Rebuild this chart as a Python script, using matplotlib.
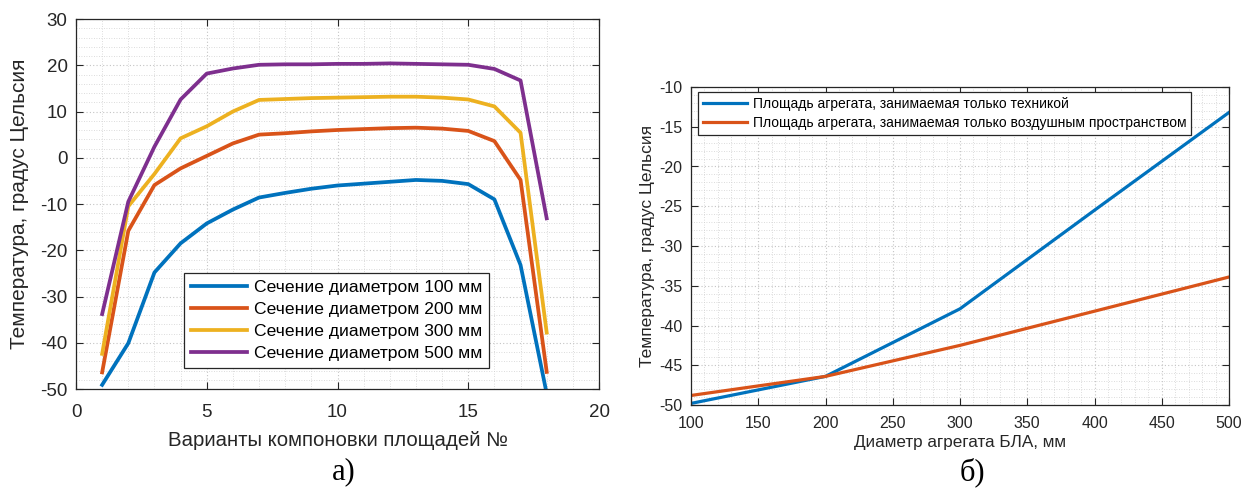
import matplotlib
matplotlib.use("Agg")
import matplotlib.pyplot as plt
from matplotlib.ticker import MultipleLocator

# ---- data: left chart ----
variants = list(range(1, 19))
s100 = [-49.1, -40.1, -24.8, -18.5, -14.2, -11.2, -8.6, -7.6, -6.7, -6.0, -5.6, -5.2, -4.8, -5.0, -5.7, -9.0, -23.2, -51.0]
s200 = [-46.4, -15.8, -5.9, -2.3, 0.4, 3.1, 5.0, 5.3, 5.7, 6.0, 6.2, 6.4, 6.5, 6.3, 5.8, 3.6, -4.8, -46.3]
s300 = [-42.4, -10.5, -3.5, 4.2, 6.8, 10.0, 12.5, 12.7, 12.9, 13.0, 13.1, 13.2, 13.2, 13.0, 12.6, 11.1, 5.4, -37.8]
s500 = [-33.8, -9.5, 2.4, 12.6, 18.2, 19.3, 20.1, 20.2, 20.2, 20.3, 20.3, 20.4, 20.3, 20.2, 20.1, 19.2, 16.7, -13.1]
left_labels = ["Сечение диаметром 100 мм", "Сечение диаметром 200 мм",
               "Сечение диаметром 300 мм", "Сечение диаметром 500 мм"]

# ---- data: right chart ----
diam = [100, 200, 300, 400, 500]
tech = [-49.8, -46.4, -37.9, -25.5, -13.2]
air = [-48.8, -46.4, -42.5, -38.2, -33.9]
right_labels = ["Площадь агрегата, занимаемая только техникой",
                "Площадь агрегата, занимаемая только воздушным пространством"]

colors = ["#0072BD", "#D95319", "#EDB120", "#7E2F8E"]

plt.rcParams['font.family'] = ['Liberation Sans', 'DejaVu Sans']
plt.rcParams['axes.unicode_minus'] = False

fig = plt.figure(figsize=(12.44, 4.9), dpi=100)
ax1 = fig.add_axes([76/1244, 1-389/490, 523/1244, 370/490])
ax2 = fig.add_axes([691/1244, 1-405/490, 538/1244, 318/490])

def style(ax, xmin, xmaj, ymin, ymaj, fs, xpad, ypad):
    ax.xaxis.set_major_locator(MultipleLocator(xmaj))
    ax.xaxis.set_minor_locator(MultipleLocator(xmin))
    ax.yaxis.set_major_locator(MultipleLocator(ymaj))
    ax.yaxis.set_minor_locator(MultipleLocator(ymin))
    ax.grid(which='major', color='#c4c4c4', linestyle=(0, (1, 2)), linewidth=0.8)
    ax.grid(which='minor', color='#d0d0d0', linestyle=(0, (1, 2)), linewidth=0.6)
    ax.set_axisbelow(True)
    ax.tick_params(which='major', direction='in', top=True, right=True, length=5,
                   width=0.8, colors='#262626', labelsize=fs, labelcolor='#262626')
    ax.tick_params(axis='x', which='major', pad=xpad)
    ax.tick_params(axis='y', which='major', pad=ypad)
    ax.tick_params(which='minor', length=0, top=True, right=True)
    for sp in ax.spines.values():
        sp.set_color('#262626')
        sp.set_linewidth(0.9)

# left chart
for vals, c, lab in zip([s100, s200, s300, s500], colors, left_labels):
    ax1.plot(variants, vals, color=c, linewidth=2.7, label=lab)
ax1.set_xlim(0, 20)
ax1.set_ylim(-50, 30)
style(ax1, 1, 5, 2, 10, 13.5, 11, 6)
ax1.set_xlabel("Варианты компоновки площадей №", fontsize=14.7, color='#262626')
ax1.xaxis.set_label_coords(0.5, (389-441)/370)
ax1.xaxis.label.set_va('center')
ax1.set_ylabel("Температура, градус Цельсия", fontsize=15, color='#262626')
ax1.yaxis.set_label_coords((20-76)/523, 0.5)
ax1.yaxis.label.set_va('center')
leg1 = ax1.legend(loc='lower left', bbox_to_anchor=(0.2065, 0.057), fontsize=12.6,
                  frameon=True, fancybox=False, edgecolor='#262626', framealpha=1,
                  handlelength=3.2, handletextpad=0.4, borderpad=0.4, labelspacing=0.38,
                  borderaxespad=0)
leg1.get_frame().set_linewidth(0.9)

# right chart
ax2.plot(diam, tech, color=colors[0], linewidth=2.3, label=right_labels[0])
ax2.plot(diam, air, color=colors[1], linewidth=2.3, label=right_labels[1])
ax2.set_xlim(100, 500)
ax2.set_ylim(-50, -10)
style(ax2, 10, 50, 1, 5, 11.5, 8, 6)
ax2.set_xlabel("Диаметр агрегата БЛА, мм", fontsize=12.3, color='#262626')
ax2.xaxis.set_label_coords(0.5, (405-442)/318)
ax2.xaxis.label.set_va('center')
ax2.set_ylabel("Температура, градус Цельсия", fontsize=12.5, color='#262626')
ax2.yaxis.set_label_coords((648-691)/538, 0.5)
ax2.yaxis.label.set_va('center')
leg2 = ax2.legend(loc='upper left', bbox_to_anchor=(0.013, 0.984), fontsize=10.0,
                  frameon=True, fancybox=False, edgecolor='#262626', framealpha=1,
                  handlelength=3.2, handletextpad=0.4, borderpad=0.35, labelspacing=0.35,
                  borderaxespad=0)
leg2.get_frame().set_linewidth(0.9)

fig.text(344/1244, 1-472/490, "а)", fontsize=22, family='Liberation Serif', ha='center', va='center')
fig.text(972/1244, 1-472/490, "б)", fontsize=22, family='Liberation Serif', ha='center', va='center')

fig.savefig("out.png", dpi=100)
